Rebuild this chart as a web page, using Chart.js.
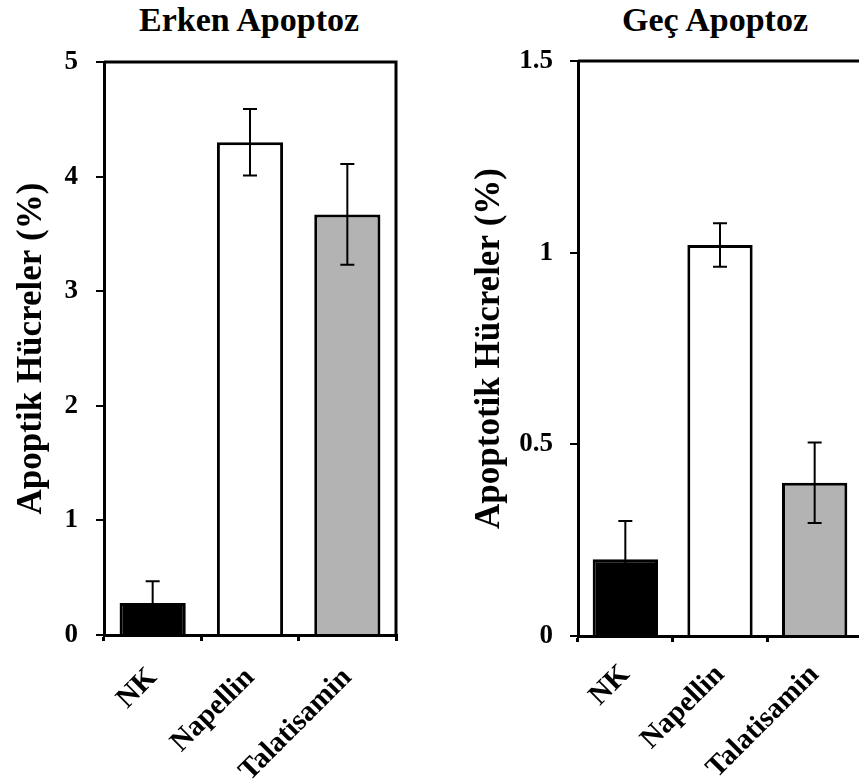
<!DOCTYPE html>
<html>
<head>
<meta charset="utf-8">
<script src="https://cdn.jsdelivr.net/npm/chart.js@4.4.0/dist/chart.umd.min.js"></script>
<style>
    html, body { margin: 0; padding: 0; background: #fff; overflow: hidden; width: 859px; height: 781px; }
    canvas { position: absolute; top: 0; }
    #grafikErken { left: 0; }
    #grafikGec { left: 430px; }
    .baslik {
        position: absolute; top: 3px; width: 300px; text-align: center;
        font-family: 'Liberation Serif', 'Times New Roman', serif;
        font-weight: bold; font-size: 34px; line-height: 34px; color: #000;
    }
</style>
</head>
<body>
<div class="baslik" style="left:99px">Erken Apoptoz</div>
<div class="baslik" style="left:565px">Geç Apoptoz</div>
<canvas id="grafikErken" width="430" height="781"></canvas>
<canvas id="grafikGec" width="440" height="781"></canvas>
<script>
// Veriler (resimden okunan yaklaşık değerler)
const kategoriler = ['NK', 'Napellin', 'Talatisamin'];
const cubukRenkleri = ['#000000', '#ffffff', '#b3b3b3'];

const erkenDegerler = [0.28, 4.30, 3.67];
const erkenHatalar = [0.19, 0.29, 0.44];
const erkenTikler = [0, 1, 2, 3, 4, 5];

const gecDegerler = [0.20, 1.02, 0.40];
const gecHatalar = [0.10, 0.057, 0.105];
const gecTikler = [0, 0.5, 1, 1.5];

const yaziTipi = "'Liberation Serif', 'Times New Roman', serif";

// Hata çubuklarını çizen eklenti
const hataCubugu = {
    id: 'hataCubugu',
    afterDatasetsDraw(chart, args, opts) {
        const { ctx, scales: { y } } = chart;
        const meta = chart.getDatasetMeta(0);
        const degerler = chart.data.datasets[0].data;
        ctx.save();
        ctx.strokeStyle = '#000';
        ctx.lineWidth = 2;
        meta.data.forEach((bar, i) => {
            const ust = y.getPixelForValue(degerler[i] + opts.hatalar[i]);
            const alt = y.getPixelForValue(degerler[i] - opts.hatalar[i]);
            ctx.beginPath();
            ctx.moveTo(bar.x, ust); ctx.lineTo(bar.x, alt);
            ctx.moveTo(bar.x - 7, ust); ctx.lineTo(bar.x + 7, ust);
            ctx.moveTo(bar.x - 7, alt); ctx.lineTo(bar.x + 7, alt);
            ctx.stroke();
        });
        ctx.restore();
    }
};

// Grafik alanının üst ve sağ kenarını çizer
const cerceve = {
    id: 'cerceve',
    afterDraw(chart) {
        const { ctx, chartArea: a } = chart;
        ctx.save();
        ctx.strokeStyle = '#000';
        ctx.lineWidth = 3;
        ctx.beginPath();
        ctx.moveTo(a.left, a.top);
        ctx.lineTo(a.right, a.top);
        ctx.lineTo(a.right, a.bottom);
        ctx.stroke();
        ctx.restore();
    }
};

function grafikOlustur(id, degerler, hatalar, tikler, yBaslik, ayar) {
    const ctx = document.getElementById(id).getContext('2d');
    new Chart(ctx, {
        type: 'bar',
        data: {
            labels: kategoriler,
            datasets: [{
                data: degerler,
                backgroundColor: cubukRenkleri,
                borderColor: '#000',
                borderWidth: 3,
                barPercentage: ayar.cubukOrani,
                categoryPercentage: 1
            }]
        },
        options: {
            responsive: false,
            animation: false,
            layout: { padding: { top: ayar.ust, right: ayar.sag, left: 0, bottom: 0 } },
            scales: {
                x: {
                    afterFit: s => { s.height = ayar.xYukseklik; },
                    grid: { display: true, offset: true, drawOnChartArea: false, drawTicks: true, tickLength: 6, color: '#000', lineWidth: 3 },
                    border: { display: true, color: '#000', width: 3 },
                    ticks: {
                        color: '#000', autoSkip: false, minRotation: 45, maxRotation: 45,
                        padding: ayar.xBosluk,
                        font: { family: yaziTipi, size: 29, weight: 'bold' }
                    }
                },
                y: {
                    min: tikler[0],
                    max: tikler[tikler.length - 1],
                    afterFit: s => { s.width = ayar.yGenislik; },
                    afterBuildTicks: s => { s.ticks = tikler.map(v => ({ value: v })); },
                    grid: { display: true, drawOnChartArea: false, drawTicks: true, tickLength: 8, color: '#000', lineWidth: 2 },
                    border: { display: true, color: '#000', width: 3 },
                    ticks: {
                        color: '#000', padding: ayar.yBosluk,
                        font: { family: yaziTipi, size: 27, weight: 'bold' },
                        callback: v => String(v)
                    },
                    title: {
                        display: true, text: yBaslik, color: '#000',
                        font: { family: yaziTipi, size: 35, weight: 'bold', lineHeight: 1 },
                        padding: { top: ayar.yBaslikBosluk, bottom: 0 }
                    }
                }
            },
            plugins: {
                legend: { display: false },
                tooltip: { enabled: false },
                hataCubugu: { hatalar: hatalar }
            }
        },
        plugins: [hataCubugu, cerceve]
    });
}

document.addEventListener('DOMContentLoaded', () => {
    grafikOlustur('grafikErken', erkenDegerler, erkenHatalar, erkenTikler, 'Apoptik Hücreler (%)',
        { ust: 62, sag: 34, xYukseklik: 146, yGenislik: 104, xBosluk: 20, yBosluk: 18, yBaslikBosluk: 14, cubukOrani: 0.68 });
    grafikOlustur('grafikGec', gecDegerler, gecHatalar, gecTikler, 'Apoptotik Hücreler (%)',
        { ust: 61, sag: 8, xYukseklik: 145, yGenislik: 148, xBosluk: 16, yBosluk: 17, yBaslikBosluk: 42, cubukOrani: 0.69 });
});
</script>
</body>
</html>
